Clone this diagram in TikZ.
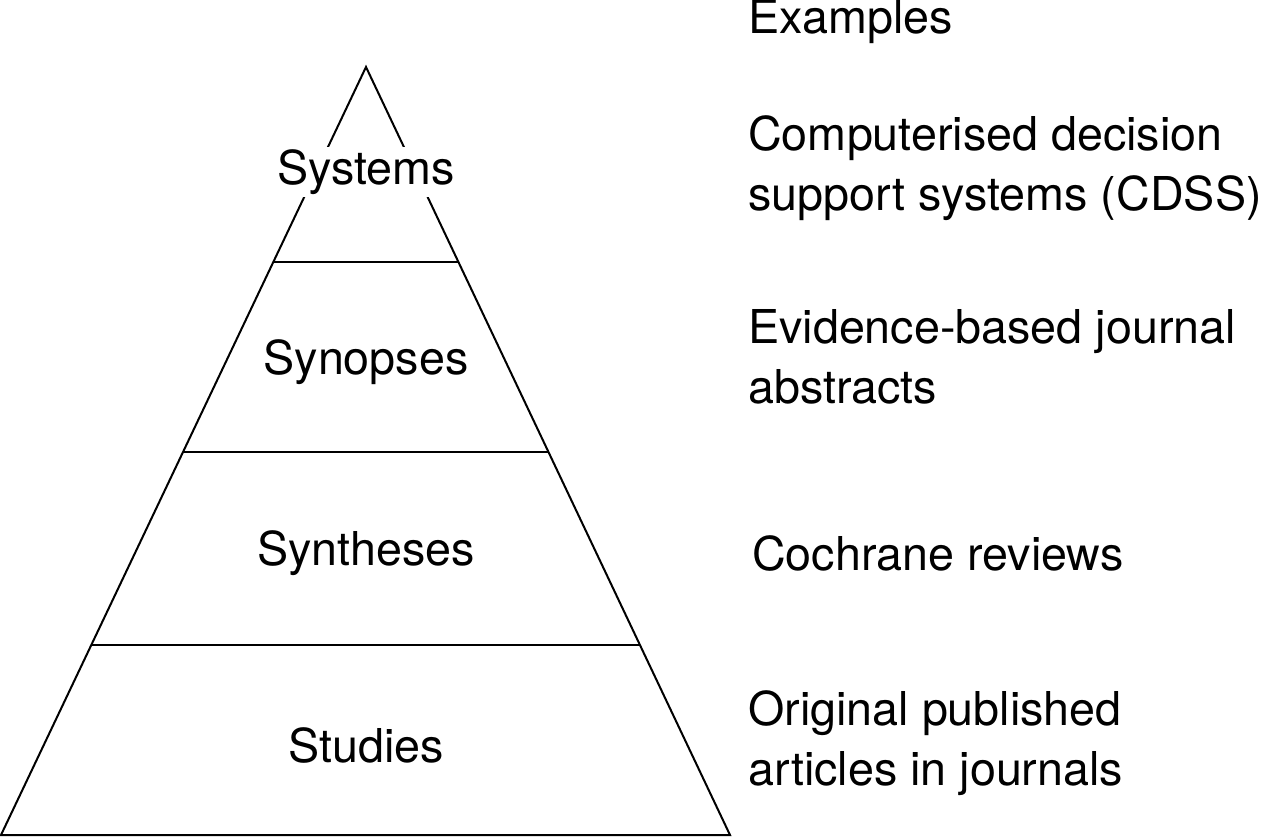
\documentclass[tikz,border=0pt]{standalone}
\usepackage{fontspec}
\setmainfont{TeX Gyre Heros}
\begin{document}
\begin{tikzpicture}[x=0.75pt,y=-0.75pt,
  lvl/.style={fill=white,inner sep=2pt,font=\fontsize{35}{40}\selectfont},
  ex/.style={anchor=west,align=left,inner sep=0pt,font=\fontsize{35}{45}\selectfont}]
\useasboundingbox (0,0) rectangle (1280,837);
\coordinate (apex) at (366,67);
\coordinate (bl) at (1,835);
\coordinate (br) at (730,835);
\draw[line width=1.5pt] (apex) -- (bl) -- (br) -- cycle;
\foreach \y in {262,452,645}{
  \draw[line width=1.5pt] ({366-(\y-67)/768*365},\y) -- ({366+(\y-67)/768*364},\y);
}
\node[lvl] (sys) at (366,172) {Systems};
\node[lvl] (syn) at (366,362) {Synopses};
\node[lvl] (sth) at (366,553) {Syntheses};
\node[lvl] (stu) at (366,745) {Studies};
\node[ex] (exh) at (748,22) {Examples};
\node[ex] (e1) at (748,168) {Computerised decision\\support systems (CDSS)};
\node[ex] (e2) at (748,357) {Evidence-based journal\\abstracts};
\node[ex] (e3) at (752,553) {Cochrane reviews};
\node[ex] (e4) at (748,743) {Original published\\articles in journals};
\end{tikzpicture}
\end{document}
